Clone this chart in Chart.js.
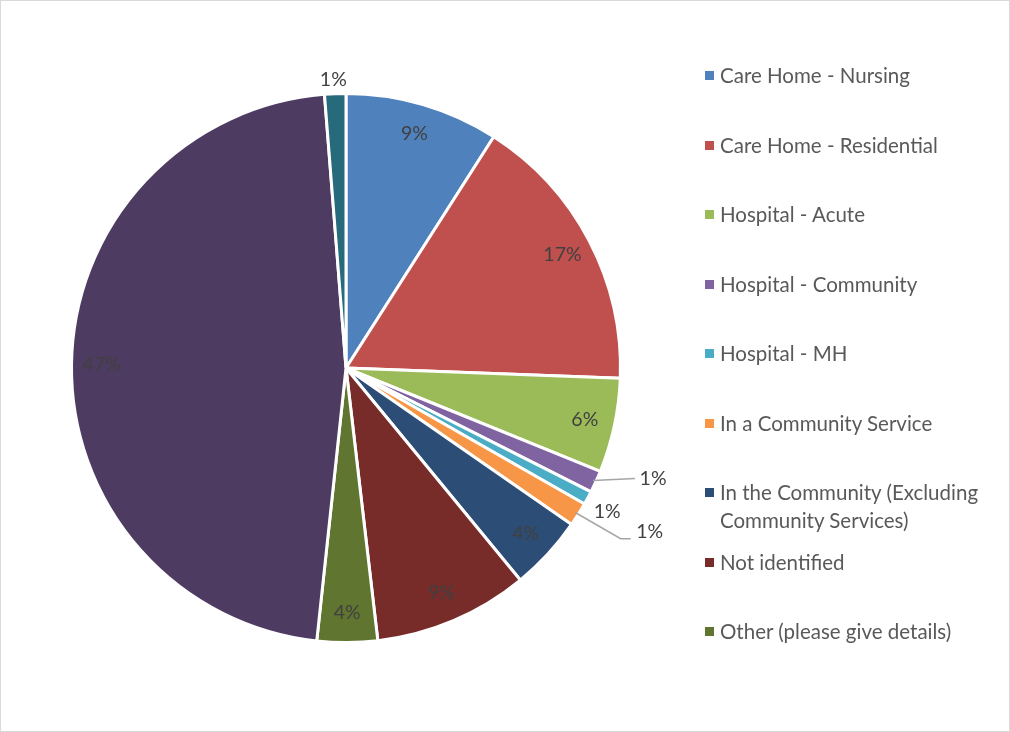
<!DOCTYPE html>
<html>
<head>
<meta charset="utf-8">
<script src="https://cdn.jsdelivr.net/npm/chart.js@4.4.0/dist/chart.umd.min.js"></script>
<style>
body{margin:0;background:#fff}
#wrap{position:relative;width:1010px;height:732px;overflow:hidden}
#frame{position:absolute;left:0;top:0;width:1008px;height:730px;border:1px solid #d9d9d9;pointer-events:none}
#legend{position:absolute;left:0;top:0;font-family:Lato,'Open Sans',sans-serif;font-size:20.5px;color:#595959}
.item{position:absolute;left:705px;width:295px;line-height:28px}
.item .sw{position:absolute;left:0;top:10px;width:9px;height:9px}
.item .tx{display:block;margin-left:15px}
</style>
</head>
<body>
<div id="wrap">
  <canvas id="pie" width="1010" height="732"></canvas>
  <div id="legend"></div>
  <div id="frame"></div>
</div>
<script>
const categories=['Care Home - Nursing','Care Home - Residential','Hospital - Acute','Hospital - Community',
  'Hospital - MH','In a Community Service','In the Community (Excluding Community Services)',
  'Not identified','Other (please give details)','Own Home','Prison'];
const values=[9.05,16.55,5.55,1.3,0.8,1.4,4.4,9.1,3.55,47.05,1.25];
const colours=['#4F81BD','#C0504D','#9BBB59','#8064A2','#4BACC6','#F79646','#2C4D75','#772C2A','#5F7530','#4D3B62','#276A7C'];
// excel legend only had room for the first 9
const legendCount=9;

// small slices get their label outside (offset from the slice's outer mid point)
const outside={
  3:{dx:60,dy:-2,line:[[42,-2]]},
  4:{dx:22,dy:15},
  5:{dx:74,dy:19,line:[[45,26],[55,26]]},
  10:{dx:-2,dy:-17}
};

const pieLabels={
  id:'pieLabels',
  afterDatasetsDraw(chart){
    const ctx=chart.ctx;
    const meta=chart.getDatasetMeta(0);
    const total=values.reduce((a,b)=>a+b,0);
    ctx.save();
    ctx.font='19.5px Lato, "Open Sans", sans-serif';
    ctx.textAlign='center';
    ctx.textBaseline='middle';
    meta.data.forEach((arc,i)=>{
      const p=arc.getProps(['x','y','startAngle','endAngle','outerRadius'],true);
      const mid=(p.startAngle+p.endAngle)/2;
      const txt=Math.round(values[i]/total*100)+'%';
      const o=outside[i];
      if(!o){
        const r=p.outerRadius*0.89;
        ctx.fillStyle='#404040';
        ctx.fillText(txt,p.x+Math.cos(mid)*r,p.y+Math.sin(mid)*r);
        return;
      }
      const ex=p.x+Math.cos(mid)*(p.outerRadius-3);
      const ey=p.y+Math.sin(mid)*(p.outerRadius-3);
      if(o.line){
        ctx.strokeStyle='#a6a6a6';
        ctx.lineWidth=1.5;
        ctx.beginPath();
        ctx.moveTo(ex,ey);
        o.line.forEach(pt=>ctx.lineTo(ex+pt[0],ey+pt[1]));
        ctx.stroke();
      }
      ctx.fillStyle='#404040';
      ctx.fillText(txt,ex+o.dx,ey+o.dy);
    });
    ctx.restore();
  }
};

new Chart(document.getElementById('pie'),{
  type:'pie',
  data:{
    labels:categories,
    datasets:[{
      data:values,
      backgroundColor:colours,
      borderColor:'#ffffff',
      borderWidth:3
    }]
  },
  options:{
    responsive:false,
    animation:false,
    layout:{padding:{left:70,top:92,right:388,bottom:88}},
    plugins:{legend:{display:false},tooltip:{enabled:false}}
  },
  plugins:[pieLabels]
});

const legend=document.getElementById('legend');
categories.slice(0,legendCount).forEach((name,i)=>{
  const item=document.createElement('div');
  item.className='item';
  item.style.top=(61+i*69.5)+'px';
  item.innerHTML='<span class="sw" style="background:'+colours[i]+'"></span><span class="tx">'+name+'</span>';
  legend.appendChild(item);
});
</script>
</body>
</html>
